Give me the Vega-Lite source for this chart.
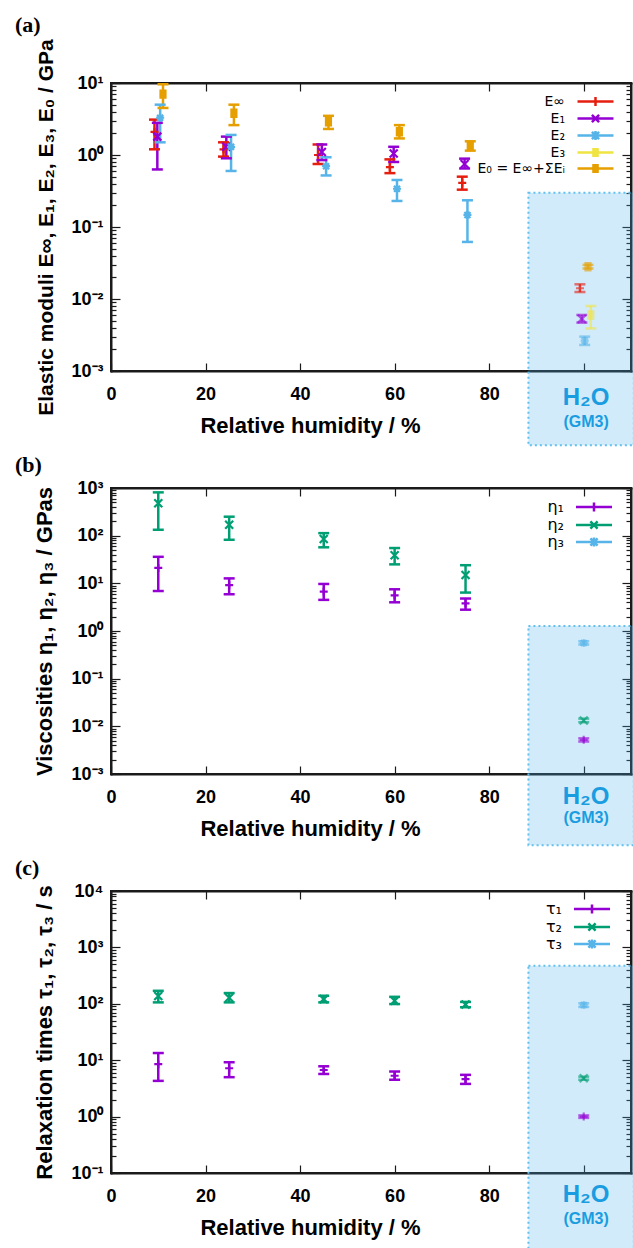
{
  "$schema": "https://vega.github.io/schema/vega-lite/v6.json",
  "background": "white",
  "padding": {"left": 14, "top": 12, "right": 0, "bottom": 0},
  "bounds": "flush",
  "spacing": 117,
  "resolve": {"scale": {"color": "independent", "shape": "independent", "opacity": "independent"}, "legend": {"color": "independent", "shape": "independent", "opacity": "independent"}},
  "config": {
    "view": {"stroke": "#1a1a1a", "strokeWidth": 2},
    "font": "Liberation Sans",
    "axis": {"grid": false, "labelFont": "Liberation Sans", "labelFontWeight": "bold", "labelFontSize": 18, "labelColor": "black", "titleFont": "Liberation Sans", "titleFontWeight": "bold", "titleFontSize": 21, "titleColor": "black", "domainColor": "#1a1a1a", "domainWidth": 2, "domainCap": "square", "tickColor": "#1a1a1a", "tickWidth": 1.2, "labelOverlap": false, "labelFlush": false, "labelBound": false, "zindex": 1},
    "title": {"font": "Liberation Serif", "fontSize": 22, "fontWeight": "bold", "anchor": "start", "frame": "group", "color": "black"}
  },
  "datasets": {
    "moduli": [
      {"series": "E∞", "src": "RH", "x": 9.2, "v": 2.1, "lo": 1.2, "hi": 3.1},
      {"series": "E₁", "src": "RH", "x": 9.8, "v": 1.8, "lo": 0.63, "hi": 2.8},
      {"series": "E₂", "src": "RH", "x": 10.4, "v": 3.3, "lo": 1.5, "hi": 5.0},
      {"series": "E₀ = E∞+ΣEᵢ", "src": "RH", "x": 11.0, "v": 7.0, "lo": 4.5, "hi": 9.6},
      {"series": "E∞", "src": "RH", "x": 23.8, "v": 1.2, "lo": 0.95, "hi": 1.5},
      {"series": "E₁", "src": "RH", "x": 24.4, "v": 1.3, "lo": 0.9, "hi": 1.8},
      {"series": "E₂", "src": "RH", "x": 25.4, "v": 1.3, "lo": 0.6, "hi": 1.9},
      {"series": "E₀ = E∞+ΣEᵢ", "src": "RH", "x": 26.0, "v": 3.8, "lo": 2.6, "hi": 5.0},
      {"series": "E∞", "src": "RH", "x": 43.8, "v": 1.0, "lo": 0.75, "hi": 1.4},
      {"series": "E₁", "src": "RH", "x": 44.6, "v": 1.1, "lo": 0.85, "hi": 1.4},
      {"series": "E₂", "src": "RH", "x": 45.5, "v": 0.7, "lo": 0.52, "hi": 0.93},
      {"series": "E₀ = E∞+ΣEᵢ", "src": "RH", "x": 46.0, "v": 2.9, "lo": 2.3, "hi": 3.5},
      {"series": "E∞", "src": "RH", "x": 59.0, "v": 0.68, "lo": 0.56, "hi": 0.87},
      {"series": "E₁", "src": "RH", "x": 59.8, "v": 1.05, "lo": 0.8, "hi": 1.3},
      {"series": "E₂", "src": "RH", "x": 60.5, "v": 0.34, "lo": 0.23, "hi": 0.45},
      {"series": "E₀ = E∞+ΣEᵢ", "src": "RH", "x": 61.0, "v": 2.1, "lo": 1.7, "hi": 2.6},
      {"series": "E∞", "src": "RH", "x": 74.3, "v": 0.41, "lo": 0.33, "hi": 0.5},
      {"series": "E₁", "src": "RH", "x": 74.8, "v": 0.75, "lo": 0.65, "hi": 0.89},
      {"series": "E₂", "src": "RH", "x": 75.4, "v": 0.147, "lo": 0.062, "hi": 0.235},
      {"series": "E₀ = E∞+ΣEᵢ", "src": "RH", "x": 76.0, "v": 1.33, "lo": 1.15, "hi": 1.55},
      {"series": "E∞", "src": "H2O", "x": 99.2, "v": 0.0141, "lo": 0.0125, "hi": 0.016},
      {"series": "E₁", "src": "H2O", "x": 99.6, "v": 0.0053, "lo": 0.0047, "hi": 0.006},
      {"series": "E₂", "src": "H2O", "x": 100.2, "v": 0.00264, "lo": 0.0023, "hi": 0.003},
      {"series": "E₃", "src": "H2O", "x": 101.5, "v": 0.006, "lo": 0.0039, "hi": 0.008},
      {"series": "E₀ = E∞+ΣEᵢ", "src": "H2O", "x": 100.9, "v": 0.0281, "lo": 0.0265, "hi": 0.0298}
    ],
    "visc": [
      {"series": "η₂", "src": "RH", "x": 10, "v": 480, "lo": 133, "hi": 810},
      {"series": "η₂", "src": "RH", "x": 25, "v": 170, "lo": 82, "hi": 250},
      {"series": "η₂", "src": "RH", "x": 45, "v": 85, "lo": 57, "hi": 113},
      {"series": "η₂", "src": "RH", "x": 60, "v": 39, "lo": 25, "hi": 55},
      {"series": "η₂", "src": "RH", "x": 75, "v": 15, "lo": 6.4, "hi": 24},
      {"series": "η₁", "src": "RH", "x": 10, "v": 21, "lo": 6.9, "hi": 36},
      {"series": "η₁", "src": "RH", "x": 25, "v": 9.2, "lo": 5.9, "hi": 12.7},
      {"series": "η₁", "src": "RH", "x": 45, "v": 6.7, "lo": 4.5, "hi": 9.7},
      {"series": "η₁", "src": "RH", "x": 60, "v": 5.6, "lo": 4.0, "hi": 7.5},
      {"series": "η₁", "src": "RH", "x": 75, "v": 3.8, "lo": 2.8, "hi": 4.8},
      {"series": "η₃", "src": "H2O", "x": 100, "v": 0.56, "lo": 0.52, "hi": 0.61},
      {"series": "η₂", "src": "H2O", "x": 100, "v": 0.0133, "lo": 0.0122, "hi": 0.0145},
      {"series": "η₁", "src": "H2O", "x": 100, "v": 0.0052, "lo": 0.0048, "hi": 0.0056}
    ],
    "tau": [
      {"series": "τ₂", "src": "RH", "x": 10, "v": 138, "lo": 106, "hi": 170},
      {"series": "τ₂", "src": "RH", "x": 25, "v": 128, "lo": 106, "hi": 155},
      {"series": "τ₂", "src": "RH", "x": 45, "v": 121, "lo": 106, "hi": 139},
      {"series": "τ₂", "src": "RH", "x": 60, "v": 113, "lo": 99, "hi": 133},
      {"series": "τ₂", "src": "RH", "x": 75, "v": 97, "lo": 87, "hi": 108},
      {"series": "τ₁", "src": "RH", "x": 10, "v": 8.5, "lo": 4.3, "hi": 13.4},
      {"series": "τ₁", "src": "RH", "x": 25, "v": 7.2, "lo": 5.0, "hi": 9.2},
      {"series": "τ₁", "src": "RH", "x": 45, "v": 6.7, "lo": 5.7, "hi": 7.8},
      {"series": "τ₁", "src": "RH", "x": 60, "v": 5.3, "lo": 4.5, "hi": 6.3},
      {"series": "τ₁", "src": "RH", "x": 75, "v": 4.6, "lo": 3.8, "hi": 5.5},
      {"series": "τ₃", "src": "H2O", "x": 100, "v": 95, "lo": 88, "hi": 102},
      {"series": "τ₂", "src": "H2O", "x": 100, "v": 4.8, "lo": 4.5, "hi": 5.1},
      {"series": "τ₁", "src": "H2O", "x": 100, "v": 1.0, "lo": 0.95, "hi": 1.05}
    ]
  },
  "vconcat": [
    {
      "width": 520, "height": 288,
      "title": {"text": "(a)", "dx": -96, "offset": 2},
      "data": {"name": "moduli"},
      "resolve": {"axis": {"x": "independent", "y": "independent"}},
      "layer": [
        {
          "data": {"values": [{}]},
          "mark": {"type": "rect", "fill": "#4fb3ec", "fillOpacity": 0.26, "stroke": "#62c0ee", "strokeWidth": 2, "strokeDash": [2, 3], "clip": false},
          "encoding": {
            "x": {"datum": 88.3, "type": "quantitative", "scale": {"domain": [0, 110]}, "axis": null},
            "x2": {"datum": 110.6},
            "y": {"datum": 0.3, "type": "quantitative", "scale": {"type": "log", "domain": [0.001, 10]}, "axis": null},
            "y2": {"datum": 0.000093}
          }
        },
        {
          "mark": {"type": "rule", "strokeWidth": 2.5},
          "encoding": {
            "x": {"field": "x", "type": "quantitative", "axis": {"orient": "top", "values": [0, 20, 40, 60, 80, 100], "labels": false, "tickSize": -8, "title": null}},
            "y": {"field": "lo", "type": "quantitative", "axis": {"orient": "right", "values": [0.001, 0.002, 0.003, 0.004, 0.005, 0.006, 0.007, 0.008, 0.009, 0.01, 0.02, 0.03, 0.04, 0.05, 0.06, 0.07, 0.08, 0.09, 0.1, 0.2, 0.3, 0.4, 0.5, 0.6, 0.7, 0.8, 0.9, 1, 2, 3, 4, 5, 6, 7, 8, 9, 10], "labels": false, "title": null,
              "tickSize": {"condition": {"test": "abs(log(datum.value)/LN10-round(log(datum.value)/LN10))<0.01", "value": -9}, "value": -5}}},
            "y2": {"field": "hi"},
            "color": {"field": "series", "type": "nominal", "scale": {"domain": ["E∞", "E₁", "E₂", "E₃", "E₀ = E∞+ΣEᵢ"], "range": ["#e51e10", "#9400d3", "#56b4e9", "#f0e442", "#e69f00"]}},
            "opacity": {"condition": {"test": "datum.src === 'H2O'", "value": 0.6}, "value": 1}
          }
        },
        {
          "mark": {"type": "tick", "orient": "horizontal", "size": 11, "thickness": 2.5},
          "encoding": {
            "x": {"field": "x", "type": "quantitative", "axis": null},
            "y": {"field": "lo", "type": "quantitative", "axis": null},
            "color": {"field": "series", "type": "nominal"},
            "opacity": {"condition": {"test": "datum.src === 'H2O'", "value": 0.6}, "value": 1}
          }
        },
        {
          "mark": {"type": "tick", "orient": "horizontal", "size": 11, "thickness": 2.5},
          "encoding": {
            "x": {"field": "x", "type": "quantitative", "axis": null},
            "y": {"field": "hi", "type": "quantitative", "axis": null},
            "color": {"field": "series", "type": "nominal"},
            "opacity": {"condition": {"test": "datum.src === 'H2O'", "value": 0.6}, "value": 1}
          }
        },
        {
          "mark": {"type": "point", "filled": false, "strokeWidth": 2.2, "size": 64},
          "encoding": {
            "x": {"field": "x", "type": "quantitative",
              "axis": {"orient": "bottom", "values": [0, 20, 40, 60, 80, 100], "labelExpr": "datum.value <= 80 ? datum.label : ''", "tickSize": -8, "labelPadding": 22, "title": "Relative humidity / %", "titleX": 199, "titlePadding": 12, "titleFontSize": 22}},
            "y": {"field": "v", "type": "quantitative",
              "axis": {"orient": "left", "values": [0.001, 0.002, 0.003, 0.004, 0.005, 0.006, 0.007, 0.008, 0.009, 0.01, 0.02, 0.03, 0.04, 0.05, 0.06, 0.07, 0.08, 0.09, 0.1, 0.2, 0.3, 0.4, 0.5, 0.6, 0.7, 0.8, 0.9, 1, 2, 3, 4, 5, 6, 7, 8, 9, 10],
                "labelExpr": "abs(log(datum.value)/LN10-round(log(datum.value)/LN10))<0.01 ? '10'+(round(log(datum.value)/LN10)<0?'⁻':'')+['⁰','¹','²','³','⁴'][abs(round(log(datum.value)/LN10))] : ''",
                "tickSize": {"condition": {"test": "abs(log(datum.value)/LN10-round(log(datum.value)/LN10))<0.01", "value": -9}, "value": -5},
                "labelPadding": 17, "title": "Elastic moduli E∞, E₁, E₂, E₃, E₀ / GPa", "titlePadding": 14}},
            "color": {"field": "series", "type": "nominal",
              "legend": {"title": null, "orient": "none", "legendX": 477, "legendY": 11, "direction": "vertical", "labelAlign": "right", "labelOffset": -38, "labelFont": "DejaVu Sans", "labelFontSize": 14, "labelColor": "black", "symbolSize": 144, "symbolStrokeWidth": 2.5, "rowPadding": -6.5,
                "symbolType": {"expr": "['M-3,0H3M0,-0.75V0.75','M-3,0H3M-0.6,-0.6L0.6,0.6M-0.6,0.6L0.6,-0.6','M-3,0H3M0,-0.75V0.75M-0.6,-0.6L0.6,0.6M-0.6,0.6L0.6,-0.6','M-3,0H3M-0.55,-0.55H0.55M-0.55,-0.28H0.55M-0.55,0.28H0.55M-0.55,0.55H0.55','M-3,0H3M-0.55,-0.55H0.55M-0.55,-0.28H0.55M-0.55,0.28H0.55M-0.55,0.55H0.55'][datum.index]"}}},
            "shape": {"field": "series", "type": "nominal", "legend": null,
              "scale": {"domain": ["E₀ = E∞+ΣEᵢ", "E₃", "E₂", "E₁", "E∞"], "range": ["M-0.9,-0.9H0.9M-0.9,-0.45H0.9M-0.9,0H0.9M-0.9,0.45H0.9M-0.9,0.9H0.9", "M-0.9,-0.9H0.9M-0.9,-0.45H0.9M-0.9,0H0.9M-0.9,0.45H0.9M-0.9,0.9H0.9", "M-1,0H1M0,-1V1M-0.75,-0.75L0.75,0.75M-0.75,0.75L0.75,-0.75", "M-1,-1L1,1M-1,1L1,-1", "M-1,0H1M0,-1V1"]}},
            "opacity": {"condition": {"test": "datum.src === 'H2O'", "value": 0.6}, "value": 1}
          }
        },
        {
          "data": {"values": [{}]},
          "mark": {"type": "text", "text": "H₂O", "font": "Liberation Sans", "fontWeight": "bold", "fontSize": 24, "color": "#1a9de0", "clip": false},
          "encoding": {
            "x": {"datum": 100.5, "type": "quantitative", "axis": null},
            "y": {"datum": 0.00042, "type": "quantitative", "axis": null}
          }
        },
        {
          "data": {"values": [{}]},
          "mark": {"type": "text", "text": "(GM3)", "font": "Liberation Sans", "fontWeight": "bold", "fontSize": 16, "color": "#1a9de0", "clip": false},
          "encoding": {
            "x": {"datum": 100.5, "type": "quantitative", "axis": null},
            "y": {"datum": 0.000196, "type": "quantitative", "axis": null}
          }
        }
      ]
    },
    {
      "width": 520, "height": 286,
      "title": {"text": "(b)", "dx": -96, "offset": 2},
      "data": {"name": "visc"},
      "resolve": {"axis": {"x": "independent", "y": "independent"}},
      "layer": [
        {
          "data": {"values": [{}]},
          "mark": {"type": "rect", "fill": "#4fb3ec", "fillOpacity": 0.26, "stroke": "#62c0ee", "strokeWidth": 2, "strokeDash": [2, 3], "clip": false},
          "encoding": {
            "x": {"datum": 88.3, "type": "quantitative", "scale": {"domain": [0, 110]}, "axis": null},
            "x2": {"datum": 110.6},
            "y": {"datum": 1.28, "type": "quantitative", "scale": {"type": "log", "domain": [0.001, 1000]}, "axis": null},
            "y2": {"datum": 0.000032}
          }
        },
        {
          "mark": {"type": "rule", "strokeWidth": 2.5},
          "encoding": {
            "x": {"field": "x", "type": "quantitative", "axis": {"orient": "top", "values": [0, 20, 40, 60, 80, 100], "labels": false, "tickSize": -8, "title": null}},
            "y": {"field": "lo", "type": "quantitative", "axis": {"orient": "right", "values": [0.001, 0.002, 0.003, 0.004, 0.005, 0.006, 0.007, 0.008, 0.009, 0.01, 0.02, 0.03, 0.04, 0.05, 0.06, 0.07, 0.08, 0.09, 0.1, 0.2, 0.3, 0.4, 0.5, 0.6, 0.7, 0.8, 0.9, 1, 2, 3, 4, 5, 6, 7, 8, 9, 10, 20, 30, 40, 50, 60, 70, 80, 90, 100, 200, 300, 400, 500, 600, 700, 800, 900, 1000], "labels": false, "title": null,
              "tickSize": {"condition": {"test": "abs(log(datum.value)/LN10-round(log(datum.value)/LN10))<0.01", "value": -9}, "value": -5}}},
            "y2": {"field": "hi"},
            "color": {"field": "series", "type": "nominal", "scale": {"domain": ["η₁", "η₂", "η₃"], "range": ["#9400d3", "#009e73", "#56b4e9"]}},
            "opacity": {"condition": {"test": "datum.src === 'H2O'", "value": 0.6}, "value": 1}
          }
        },
        {
          "mark": {"type": "tick", "orient": "horizontal", "size": 11, "thickness": 2.5},
          "encoding": {
            "x": {"field": "x", "type": "quantitative", "axis": null},
            "y": {"field": "lo", "type": "quantitative", "axis": null},
            "color": {"field": "series", "type": "nominal"},
            "opacity": {"condition": {"test": "datum.src === 'H2O'", "value": 0.6}, "value": 1}
          }
        },
        {
          "mark": {"type": "tick", "orient": "horizontal", "size": 11, "thickness": 2.5},
          "encoding": {
            "x": {"field": "x", "type": "quantitative", "axis": null},
            "y": {"field": "hi", "type": "quantitative", "axis": null},
            "color": {"field": "series", "type": "nominal"},
            "opacity": {"condition": {"test": "datum.src === 'H2O'", "value": 0.6}, "value": 1}
          }
        },
        {
          "mark": {"type": "point", "filled": false, "strokeWidth": 2.2, "size": 64},
          "encoding": {
            "x": {"field": "x", "type": "quantitative",
              "axis": {"orient": "bottom", "values": [0, 20, 40, 60, 80, 100], "labelExpr": "datum.value <= 80 ? datum.label : ''", "tickSize": -8, "labelPadding": 22, "title": "Relative humidity / %", "titleX": 199, "titlePadding": 12, "titleFontSize": 22}},
            "y": {"field": "v", "type": "quantitative",
              "axis": {"orient": "left", "values": [0.001, 0.002, 0.003, 0.004, 0.005, 0.006, 0.007, 0.008, 0.009, 0.01, 0.02, 0.03, 0.04, 0.05, 0.06, 0.07, 0.08, 0.09, 0.1, 0.2, 0.3, 0.4, 0.5, 0.6, 0.7, 0.8, 0.9, 1, 2, 3, 4, 5, 6, 7, 8, 9, 10, 20, 30, 40, 50, 60, 70, 80, 90, 100, 200, 300, 400, 500, 600, 700, 800, 900, 1000],
                "labelExpr": "abs(log(datum.value)/LN10-round(log(datum.value)/LN10))<0.01 ? '10'+(round(log(datum.value)/LN10)<0?'⁻':'')+['⁰','¹','²','³','⁴'][abs(round(log(datum.value)/LN10))] : ''",
                "tickSize": {"condition": {"test": "abs(log(datum.value)/LN10-round(log(datum.value)/LN10))<0.01", "value": -9}, "value": -5},
                "labelPadding": 17, "title": "Viscosities η₁, η₂, η₃ / GPas", "titlePadding": 14, "titleFontSize": 22}},
            "color": {"field": "series", "type": "nominal",
              "legend": {"title": null, "orient": "none", "legendX": 475, "legendY": 11, "direction": "vertical", "labelAlign": "right", "labelOffset": -38, "labelFont": "DejaVu Sans", "labelFontSize": 16, "labelColor": "black", "symbolSize": 144, "symbolStrokeWidth": 2.5, "rowPadding": -4,
                "symbolType": {"expr": "['M-3,0H3M0,-0.75V0.75','M-3,0H3M-0.6,-0.6L0.6,0.6M-0.6,0.6L0.6,-0.6','M-3,0H3M0,-0.75V0.75M-0.6,-0.6L0.6,0.6M-0.6,0.6L0.6,-0.6'][datum.index]"}}},
            "shape": {"field": "series", "type": "nominal", "legend": null,
              "scale": {"domain": ["η₃", "η₂", "η₁"], "range": ["M-1,0H1M0,-1V1M-0.75,-0.75L0.75,0.75M-0.75,0.75L0.75,-0.75", "M-1,-1L1,1M-1,1L1,-1", "M-1,0H1M0,-1V1"]}},
            "opacity": {"condition": {"test": "datum.src === 'H2O'", "value": 0.6}, "value": 1}
          }
        },
        {
          "data": {"values": [{}]},
          "mark": {"type": "text", "text": "H₂O", "font": "Liberation Sans", "fontWeight": "bold", "fontSize": 24, "color": "#1a9de0", "clip": false},
          "encoding": {
            "x": {"datum": 100.5, "type": "quantitative", "axis": null},
            "y": {"datum": 0.00033, "type": "quantitative", "axis": null}
          }
        },
        {
          "data": {"values": [{}]},
          "mark": {"type": "text", "text": "(GM3)", "font": "Liberation Sans", "fontWeight": "bold", "fontSize": 16, "color": "#1a9de0", "clip": false},
          "encoding": {
            "x": {"datum": 100.5, "type": "quantitative", "axis": null},
            "y": {"datum": 0.000119, "type": "quantitative", "axis": null}
          }
        }
      ]
    },
    {
      "width": 520, "height": 282,
      "title": {"text": "(c)", "dx": -96, "offset": 2},
      "data": {"name": "tau"},
      "resolve": {"axis": {"x": "independent", "y": "independent"}},
      "layer": [
        {
          "data": {"values": [{}]},
          "mark": {"type": "rect", "fill": "#4fb3ec", "fillOpacity": 0.26, "stroke": "#62c0ee", "strokeWidth": 2, "strokeDash": [2, 3], "clip": false},
          "encoding": {
            "x": {"datum": 88.3, "type": "quantitative", "scale": {"domain": [0, 110]}, "axis": null},
            "x2": {"datum": 110.6},
            "y": {"datum": 471, "type": "quantitative", "scale": {"type": "log", "domain": [0.1, 10000]}, "axis": null},
            "y2": {"datum": 0.004}
          }
        },
        {
          "mark": {"type": "rule", "strokeWidth": 2.5},
          "encoding": {
            "x": {"field": "x", "type": "quantitative", "axis": {"orient": "top", "values": [0, 20, 40, 60, 80, 100], "labels": false, "tickSize": -8, "title": null}},
            "y": {"field": "lo", "type": "quantitative", "axis": {"orient": "right", "values": [0.1, 0.2, 0.3, 0.4, 0.5, 0.6, 0.7, 0.8, 0.9, 1, 2, 3, 4, 5, 6, 7, 8, 9, 10, 20, 30, 40, 50, 60, 70, 80, 90, 100, 200, 300, 400, 500, 600, 700, 800, 900, 1000, 2000, 3000, 4000, 5000, 6000, 7000, 8000, 9000, 10000], "labels": false, "title": null,
              "tickSize": {"condition": {"test": "abs(log(datum.value)/LN10-round(log(datum.value)/LN10))<0.01", "value": -9}, "value": -5}}},
            "y2": {"field": "hi"},
            "color": {"field": "series", "type": "nominal", "scale": {"domain": ["τ₁", "τ₂", "τ₃"], "range": ["#9400d3", "#009e73", "#56b4e9"]}},
            "opacity": {"condition": {"test": "datum.src === 'H2O'", "value": 0.6}, "value": 1}
          }
        },
        {
          "mark": {"type": "tick", "orient": "horizontal", "size": 11, "thickness": 2.5},
          "encoding": {
            "x": {"field": "x", "type": "quantitative", "axis": null},
            "y": {"field": "lo", "type": "quantitative", "axis": null},
            "color": {"field": "series", "type": "nominal"},
            "opacity": {"condition": {"test": "datum.src === 'H2O'", "value": 0.6}, "value": 1}
          }
        },
        {
          "mark": {"type": "tick", "orient": "horizontal", "size": 11, "thickness": 2.5},
          "encoding": {
            "x": {"field": "x", "type": "quantitative", "axis": null},
            "y": {"field": "hi", "type": "quantitative", "axis": null},
            "color": {"field": "series", "type": "nominal"},
            "opacity": {"condition": {"test": "datum.src === 'H2O'", "value": 0.6}, "value": 1}
          }
        },
        {
          "mark": {"type": "point", "filled": false, "strokeWidth": 2.2, "size": 64},
          "encoding": {
            "x": {"field": "x", "type": "quantitative",
              "axis": {"orient": "bottom", "values": [0, 20, 40, 60, 80, 100], "labelExpr": "datum.value <= 80 ? datum.label : ''", "tickSize": -8, "labelPadding": 22, "title": "Relative humidity / %", "titleX": 199, "titlePadding": 12, "titleFontSize": 22}},
            "y": {"field": "v", "type": "quantitative",
              "axis": {"orient": "left", "values": [0.1, 0.2, 0.3, 0.4, 0.5, 0.6, 0.7, 0.8, 0.9, 1, 2, 3, 4, 5, 6, 7, 8, 9, 10, 20, 30, 40, 50, 60, 70, 80, 90, 100, 200, 300, 400, 500, 600, 700, 800, 900, 1000, 2000, 3000, 4000, 5000, 6000, 7000, 8000, 9000, 10000],
                "labelExpr": "abs(log(datum.value)/LN10-round(log(datum.value)/LN10))<0.01 ? '10'+(round(log(datum.value)/LN10)<0?'⁻':'')+['⁰','¹','²','³','⁴'][abs(round(log(datum.value)/LN10))] : ''",
                "tickSize": {"condition": {"test": "abs(log(datum.value)/LN10-round(log(datum.value)/LN10))<0.01", "value": -9}, "value": -5},
                "labelPadding": 17, "title": "Relaxation times τ₁, τ₂, τ₃ / s", "titlePadding": 14, "titleFontSize": 22}},
            "color": {"field": "series", "type": "nominal",
              "legend": {"title": null, "orient": "none", "legendX": 473, "legendY": 10, "direction": "vertical", "labelAlign": "right", "labelOffset": -38, "labelFont": "DejaVu Sans", "labelFontSize": 16, "labelColor": "black", "symbolSize": 144, "symbolStrokeWidth": 2.5, "rowPadding": -4,
                "symbolType": {"expr": "['M-3,0H3M0,-0.75V0.75','M-3,0H3M-0.6,-0.6L0.6,0.6M-0.6,0.6L0.6,-0.6','M-3,0H3M0,-0.75V0.75M-0.6,-0.6L0.6,0.6M-0.6,0.6L0.6,-0.6'][datum.index]"}}},
            "shape": {"field": "series", "type": "nominal", "legend": null,
              "scale": {"domain": ["τ₃", "τ₂", "τ₁"], "range": ["M-1,0H1M0,-1V1M-0.75,-0.75L0.75,0.75M-0.75,0.75L0.75,-0.75", "M-1,-1L1,1M-1,1L1,-1", "M-1,0H1M0,-1V1"]}},
            "opacity": {"condition": {"test": "datum.src === 'H2O'", "value": 0.6}, "value": 1}
          }
        },
        {
          "data": {"values": [{}]},
          "mark": {"type": "text", "text": "H₂O", "font": "Liberation Sans", "fontWeight": "bold", "fontSize": 24, "color": "#1a9de0", "clip": false},
          "encoding": {
            "x": {"datum": 100.5, "type": "quantitative", "axis": null},
            "y": {"datum": 0.0407, "type": "quantitative", "axis": null}
          }
        },
        {
          "data": {"values": [{}]},
          "mark": {"type": "text", "text": "(GM3)", "font": "Liberation Sans", "fontWeight": "bold", "fontSize": 16, "color": "#1a9de0", "clip": false},
          "encoding": {
            "x": {"datum": 100.5, "type": "quantitative", "axis": null},
            "y": {"datum": 0.0153, "type": "quantitative", "axis": null}
          }
        }
      ]
    }
  ]
}
